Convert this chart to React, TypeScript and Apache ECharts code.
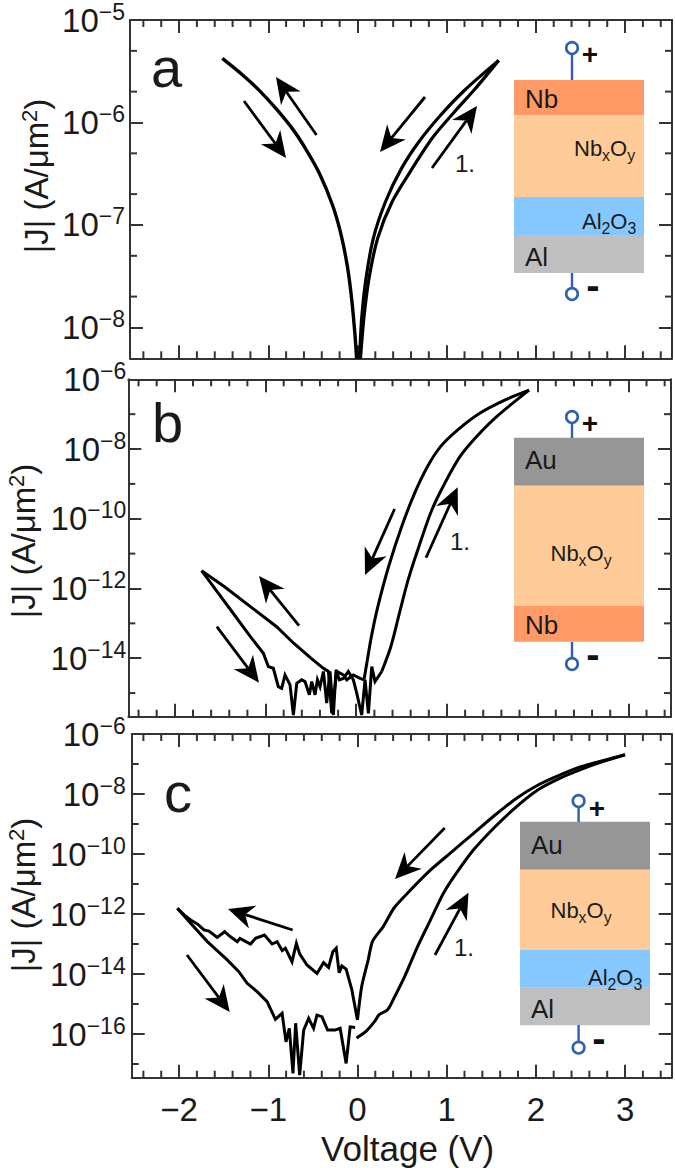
import React, { useEffect, useRef } from "react";
import * as echarts from "echarts";

// Each sweep branch: [voltage (V), log10 |J|]
const aNegative = [[-1.515,-5.374],[-1.297,-5.529],[-1.104,-5.684],[-0.91,-5.868],[-0.716,-6.077],[-0.571,-6.271],[-0.426,-6.497],[-0.281,-6.803],[-0.184,-7.094],[-0.111,-7.416],[-0.063,-7.739],[-0.029,-8.061],[-0.01,-8.303]];
const aForward = [[0.034,-8.303],[0.073,-7.9],[0.131,-7.513],[0.228,-7.126],[0.39,-6.771],[0.615,-6.448],[0.833,-6.158],[1.084,-5.9],[1.317,-5.674],[1.583,-5.394]];
const aBackward = [[1.583,-5.394],[1.195,-5.69],[0.929,-5.932],[0.687,-6.19],[0.494,-6.448],[0.315,-6.771],[0.179,-7.126],[0.097,-7.513],[0.048,-7.9],[0.024,-8.303]];

const bDown = [[-1.705,-11.49],[-1.548,-12.04],[-1.357,-12.71],[-1.167,-13.38],[-1.024,-13.86],[-0.969,-14.24],[-0.914,-14.288],[-0.859,-14.815],[-0.822,-14.863],[-0.785,-14.48],[-0.73,-14.767],[-0.693,-15.63],[-0.656,-14.72],[-0.601,-14.62],[-0.565,-14.67],[-0.517,-15.05],[-0.491,-14.67],[-0.454,-15.05],[-0.428,-14.62],[-0.399,-14.82],[-0.362,-14.38],[-0.326,-15.29],[-0.289,-14.38],[-0.252,-15.63],[-0.223,-14.34],[-0.186,-14.62],[-0.142,-14.58],[-0.087,-14.38],[-0.032,-14.62],[0.005,-15.0],[0.06,-15.63],[0.097,-14.62],[0.134,-15.58],[0.171,-14.24],[0.207,-14.67],[0.281,-14.38]];
const bRise = [[0.281,-14.38],[0.381,-13.67],[0.476,-12.71],[0.571,-11.76],[0.69,-10.8],[0.833,-9.75],[0.976,-8.98],[1.143,-8.22],[1.31,-7.69],[1.548,-7.07],[1.905,-6.31]];
const bFall = [[1.905,-6.31],[1.643,-6.59],[1.357,-6.98],[1.119,-7.45],[0.929,-7.93],[0.786,-8.5],[0.643,-9.27],[0.5,-10.23],[0.357,-11.37],[0.238,-12.52],[0.167,-13.38],[0.11,-14.24],[0.086,-14.62]];
const bBack = [[0.086,-14.62],[0.042,-14.58],[-0.032,-14.48],[-0.105,-14.62],[-0.142,-14.48],[-0.215,-14.38],[-0.27,-15.58],[-0.307,-14.38],[-0.362,-14.29],[-0.5,-14.0],[-0.69,-13.57],[-0.881,-13.09],[-1.167,-12.52],[-1.452,-11.95],[-1.705,-11.49]];

const cUp = [[-2.019,-11.81],[-1.944,-12.03],[-1.87,-12.2],[-1.795,-12.33],[-1.721,-12.53],[-1.665,-12.57],[-1.572,-12.78],[-1.49,-12.59],[-1.423,-12.76],[-1.348,-12.92],[-1.318,-12.81],[-1.199,-13.0],[-1.143,-12.81],[-1.043,-12.7],[-0.957,-13.0],[-0.901,-12.92],[-0.844,-13.22],[-0.808,-13.14],[-0.734,-13.59],[-0.685,-12.98],[-0.648,-13.33],[-0.566,-13.7],[-0.454,-13.98],[-0.38,-13.62],[-0.324,-13.78],[-0.276,-13.26],[-0.238,-13.14],[-0.205,-13.96],[-0.175,-13.73],[-0.127,-13.84],[-0.063,-14.53],[0,-15.53]];
const cFall = [[0,-15.53],[0.048,-14.41],[0.121,-13.52],[0.169,-12.91],[0.289,-12.42],[0.41,-11.8],[0.579,-11.25],[0.82,-10.53],[1.061,-9.92],[1.302,-9.31],[1.543,-8.7],[1.784,-8.14],[2.025,-7.7],[2.266,-7.37],[2.507,-7.09],[2.748,-6.89],[3,-6.69]];
const cForward = [[-0.01,-16.13],[0.096,-15.91],[0.193,-15.58],[0.241,-15.36],[0.338,-15.19],[0.41,-14.8],[0.53,-14.08],[0.675,-13.08],[0.82,-12.19],[0.964,-11.31],[1.109,-10.64],[1.302,-9.86],[1.543,-9.09],[1.784,-8.42],[2.025,-7.86],[2.266,-7.48],[2.507,-7.18],[2.748,-6.92],[3,-6.69]];
const cDown = [[-2.019,-11.81],[-1.87,-12.31],[-1.683,-12.92],[-1.46,-13.53],[-1.33,-13.92],[-1.236,-14.31],[-1.125,-14.59],[-1.013,-14.92],[-0.92,-15.51],[-0.845,-15.31],[-0.801,-16.26],[-0.764,-15.81],[-0.723,-17.31],[-0.693,-15.64],[-0.648,-17.37],[-0.603,-15.87],[-0.547,-15.48],[-0.492,-15.81],[-0.454,-15.37],[-0.399,-15.42],[-0.335,-15.87],[-0.25,-15.87],[-0.194,-15.81],[-0.127,-16.98],[-0.082,-15.76],[-0.026,-15.78]];

const xMajor = [-2, -1, 0, 1, 2, 3];
const xMinor = [-2.4, -2.2, -1.8, -1.6, -1.4, -1.2, -0.8, -0.6, -0.4, -0.2, 0.2, 0.4, 0.6, 0.8, 1.2, 1.4, 1.6, 1.8, 2.2, 2.4, 2.6, 2.8, 3.2, 3.4];
const aYMajor = [1e-5, 1e-6, 1e-7, 1e-8];
const aYMinor = [5e-6, 2e-6, 5e-7, 2e-7, 5e-8, 2e-8];
const bYMajor = [1e-6, 1e-8, 1e-10, 1e-12, 1e-14];
const bYMinor = [1e-7, 1e-9, 1e-11, 1e-13, 1e-15];
const cYMajor = [1e-6, 1e-8, 1e-10, 1e-12, 1e-14, 1e-16];
const cYMinor = [1e-7, 1e-9, 1e-11, 1e-13, 1e-15, 1e-17];

const FONT = "Liberation Sans";
const INK = "#1a1a1a";
const AXIS = "#333333";
const BLUE = "#2f62ad";
const NB = "#ff9966";
const OX = "#ffcc99";
const AL2 = "#85c8ff";
const AL = "#bfbfbf";
const AU = "#969696";

const panels = [
  { id: "a", left: 130, top: 17, width: 542, height: 341.3, xMin: -2.55, xMax: 3.526, yMin: 5e-9, yMax: 1e-5, yMajor: aYMajor, yMinor: aYMinor, margin: 5,
    lines: [{ d: aNegative, s: 0.3, w: 3.4 }, { d: aForward, s: 0.3, w: 3.2 }, { d: aBackward, s: 0.3, w: 3.2 }] },
  { id: "b", left: 128.3, top: 379.3, width: 542.7, height: 337.4, xMin: -2.513, xMax: 3.47, yMin: 2.1e-16, yMax: 1e-6, yMajor: bYMajor, yMinor: bYMinor, margin: 2,
    lines: [{ d: bDown, s: 0, w: 3 }, { d: bRise, s: 0.3, w: 3 }, { d: bFall, s: 0.3, w: 3 }, { d: bBack, s: 0, w: 3 }] },
  { id: "c", left: 131.7, top: 734, width: 540, height: 343.7, xMin: -2.531, xMax: 3.523, yMin: 3.5e-18, yMax: 1e-6, yMajor: cYMajor, yMinor: cYMinor, margin: 6,
    lines: [{ d: cUp, s: 0, w: 3 }, { d: cFall, s: 0.25, w: 3 }, { d: cForward, s: 0.25, w: 3 }, { d: cDown, s: 0, w: 3 }] },
];

const arrow = (x1: number, y1: number, x2: number, y2: number) => {
  const L = Math.hypot(x2 - x1, y2 - y1);
  const ux = (x2 - x1) / L, uy = (y2 - y1) / L;
  const nx = -uy, ny = ux;
  const len = 26, hw = 12, notch = 18;
  return [
    { type: "line", silent: true, shape: { x1, y1, x2: x2 - ux * notch, y2: y2 - uy * notch }, style: { stroke: "#000", lineWidth: 2.8 } },
    { type: "polygon", silent: true, shape: { points: [[x2, y2], [x2 - ux * len + nx * hw, y2 - uy * len + ny * hw], [x2 - ux * notch, y2 - uy * notch], [x2 - ux * len - nx * hw, y2 - uy * len - ny * hw]] }, style: { fill: "#000" } },
  ];
};
const rect = (x: number, y: number, w: number, h: number, fill: string) => ({ type: "rect", silent: true, shape: { x, y, width: w, height: h }, style: { fill } });
const richStyles = (size: number) => ({
  n: { fontFamily: FONT, fontSize: size, fill: INK, lineHeight: size + 8, verticalAlign: "middle" },
  l: { fontFamily: FONT, fontSize: size * 0.72, fill: INK, lineHeight: size * 0.8, verticalAlign: "bottom" },
});
const label = (x: number, y: number, text: string, size = 26) => ({
  type: "text", silent: true, x, y,
  style: { text, fontFamily: FONT, fontSize: size, fill: INK, textVerticalAlign: "middle", verticalAlign: "middle", rich: richStyles(size) },
});
const terminal = (x: number, y1: number, y2: number, cy: number) => [
  { type: "line", silent: true, shape: { x1: x, y1, x2: x, y2 }, style: { stroke: BLUE, lineWidth: 2.4 } },
  { type: "circle", silent: true, shape: { cx: x, cy, r: 5.8 }, style: { fill: "#fff", stroke: BLUE, lineWidth: 2.6 } },
];
const sign = (x: number, y: number, text: string, size = 28) => ({
  type: "text", silent: true, x, y,
  style: { text, fontFamily: FONT, fontWeight: "bold", fontSize: size, fill: "#111", align: "center", verticalAlign: "middle", textAlign: "center", textVerticalAlign: "middle" },
});
const yTitle = (x: number, y: number) => ({
  type: "text", silent: true, x, y, rotation: Math.PI / 2,
  style: { text: "{n||J| (A/\u03bcm}{u|2}{n|)}", align: "center", verticalAlign: "middle", textAlign: "center", textVerticalAlign: "middle", fontFamily: FONT, fontSize: 33, fill: INK,
    rich: { n: { fontFamily: FONT, fontSize: 33, fill: INK, lineHeight: 36 }, u: { fontFamily: FONT, fontSize: 22, fill: INK, lineHeight: 22, verticalAlign: "top" } } },
});

const OXIDE = "{n|Nb}{l|x}{n|O}{l|y}";
const ALOX = "{n|Al}{l|2}{n|O}{l|3}";

const graphics: any[] = [
  yTitle(36, 176), yTitle(23, 541), yTitle(23, 895),
  // panel a
  rect(514, 80, 130, 35, NB), rect(514, 115, 130, 82, OX), rect(514, 197, 130, 38, AL2), rect(514, 235, 130, 38, AL),
  ...terminal(572, 54, 80, 48), ...terminal(572, 273, 288, 294),
  sign(590, 54, "+"), sign(593, 285, "-", 40),
  label(525, 99, "Nb"), label(574, 148, OXIDE, 22), label(582, 221, ALOX, 22), label(525, 257, "Al"), label(455, 163, "1.", 24), label(151, 67, "a", 56),
  ...arrow(316.5, 135, 276, 77), ...arrow(244, 101, 286, 158), ...arrow(425, 97, 380, 152), ...arrow(432, 168, 477, 106),
  // panel b
  rect(514, 437.7, 130, 48, AU), rect(514, 485.7, 130, 120, OX), rect(514, 605.7, 130, 36, NB),
  ...terminal(572, 423, 438, 417), ...terminal(572, 642, 658, 664),
  sign(590, 423, "+"), sign(593, 654, "-", 40),
  label(525, 460, "Au"), label(550.5, 553, OXIDE, 22), label(525, 625, "Nb"), label(450, 541, "1.", 24), label(152, 422, "b", 56),
  ...arrow(299, 625.7, 259, 576), ...arrow(216.8, 626.7, 259, 682.7), ...arrow(394.6, 509, 365, 575), ...arrow(426, 557.7, 457.7, 487.3),
  // panel c
  rect(520, 821.7, 130, 48, AU), rect(520, 869.7, 130, 80.3, OX), rect(520, 950, 130, 37.7, AL2), rect(520, 987.7, 130, 37.6, AL),
  ...terminal(578.6, 807, 822, 801), ...terminal(578.6, 1025, 1041, 1047.7),
  sign(597, 808, "+"), sign(599, 1038, "-", 40),
  label(531, 845, "Au"), label(550.5, 910, OXIDE, 22), label(588, 977, ALOX, 22), label(531, 1009, "Al"), label(454, 947, "1.", 24), label(164, 792, "c", 56),
  ...arrow(444.7, 828, 395, 879), ...arrow(292.7, 930, 228, 909), ...arrow(187, 955, 229.7, 1012), ...arrow(435, 955, 468.5, 892.7),
];

const renderXTicks = (params: any, api: any) => {
  const c = params.coordSys;
  const x = api.coord([api.value(0), api.value(1)])[0];
  const style = { stroke: AXIS, lineWidth: 2 };
  return { type: "group", children: [
    { type: "line", shape: { x1: x, y1: c.y, x2: x, y2: c.y + 7 }, style },
    { type: "line", shape: { x1: x, y1: c.y + c.height, x2: x, y2: c.y + c.height - 7 }, style },
  ] };
};
const renderYTicks = (params: any, api: any) => {
  const c = params.coordSys;
  const y = api.coord([api.value(0), api.value(1)])[1];
  const style = { stroke: AXIS, lineWidth: 2 };
  return { type: "group", children: [
    { type: "line", shape: { x1: c.x, y1: y, x2: c.x + 7, y2: y }, style },
    { type: "line", shape: { x1: c.x + c.width, y1: y, x2: c.x + c.width - 7, y2: y }, style },
  ] };
};

const expLabel = (v: number) => `{b|10}{s|\u2212${Math.abs(Math.round(Math.log10(v)))}}`;

function buildOption() {
  const grid: any[] = [], xAxis: any[] = [], yAxis: any[] = [], series: any[] = [];
  const line = { show: true, onZero: false, lineStyle: { color: AXIS, width: 2 } };
  panels.forEach((p, i) => {
    const isLast = i === panels.length - 1;
    grid.push({ left: p.left, top: p.top, width: p.width, height: p.height, containLabel: false });
    const xBase = { type: "value", gridIndex: i, min: p.xMin, max: p.xMax, axisLine: line, splitLine: { show: false }, minorTick: { show: false },
      axisTick: { show: true, inside: true, length: 13, customValues: xMajor, lineStyle: { color: AXIS, width: 2 } } };
    xAxis.push({ ...xBase, position: "bottom",
      axisLabel: { show: isLast, customValues: xMajor, margin: 15, fontFamily: FONT, fontSize: 33, color: INK, formatter: (v: number) => String(v).replace("-", "\u2212") },
      ...(isLast ? { name: "Voltage (V)", nameLocation: "middle", nameGap: 53, nameTextStyle: { fontFamily: FONT, fontSize: 35, color: INK, padding: [0, 0, 0, 12] } } : {}),
    });
    xAxis.push({ ...xBase, position: "top", axisLabel: { show: false } });
    const yBase = { type: "log", logBase: 10, gridIndex: i, min: p.yMin, max: p.yMax, axisLine: line, splitLine: { show: false }, minorTick: { show: false },
      axisTick: { show: true, inside: true, length: 13, customValues: p.yMajor, lineStyle: { color: AXIS, width: 2 } } };
    yAxis.push({ ...yBase, position: "left",
      axisLabel: { show: true, customValues: p.yMajor, margin: p.margin, fontFamily: FONT, formatter: expLabel, color: INK,
        rich: { b: { fontFamily: FONT, fontSize: 33, color: INK, lineHeight: 40 }, s: { fontFamily: FONT, fontSize: 23, color: INK, lineHeight: 25, verticalAlign: "top" } } },
    });
    yAxis.push({ ...yBase, position: "right", axisLabel: { show: false } });
    p.lines.forEach((l) => series.push({
      type: "line", xAxisIndex: i * 2, yAxisIndex: i * 2, showSymbol: false, symbol: "none", smooth: l.s, silent: true,
      lineStyle: { color: "#000", width: l.w, join: "miter" }, data: l.d.map(([v, e]) => [v, Math.pow(10, e)]),
    }));
    series.push({ type: "custom", xAxisIndex: i * 2, yAxisIndex: i * 2, silent: true, renderItem: renderXTicks, data: xMinor.map((v) => [v, p.yMax]) });
    series.push({ type: "custom", xAxisIndex: i * 2, yAxisIndex: i * 2, silent: true, renderItem: renderYTicks, data: p.yMinor.map((v) => [p.xMin, v]) });
  });
  return { animation: false, backgroundColor: "#fff", grid, xAxis, yAxis, series, graphic: graphics };
}

export default function App() {
  const ref = useRef<HTMLDivElement>(null);
  useEffect(() => {
    const chart = echarts.init(ref.current!, undefined, { renderer: "svg" });
    chart.setOption(buildOption() as any);
    return () => chart.dispose();
  }, []);
  return <div ref={ref} style={{ position: "absolute", left: 0, top: 0, width: 675, height: 1168 }} />;
}
